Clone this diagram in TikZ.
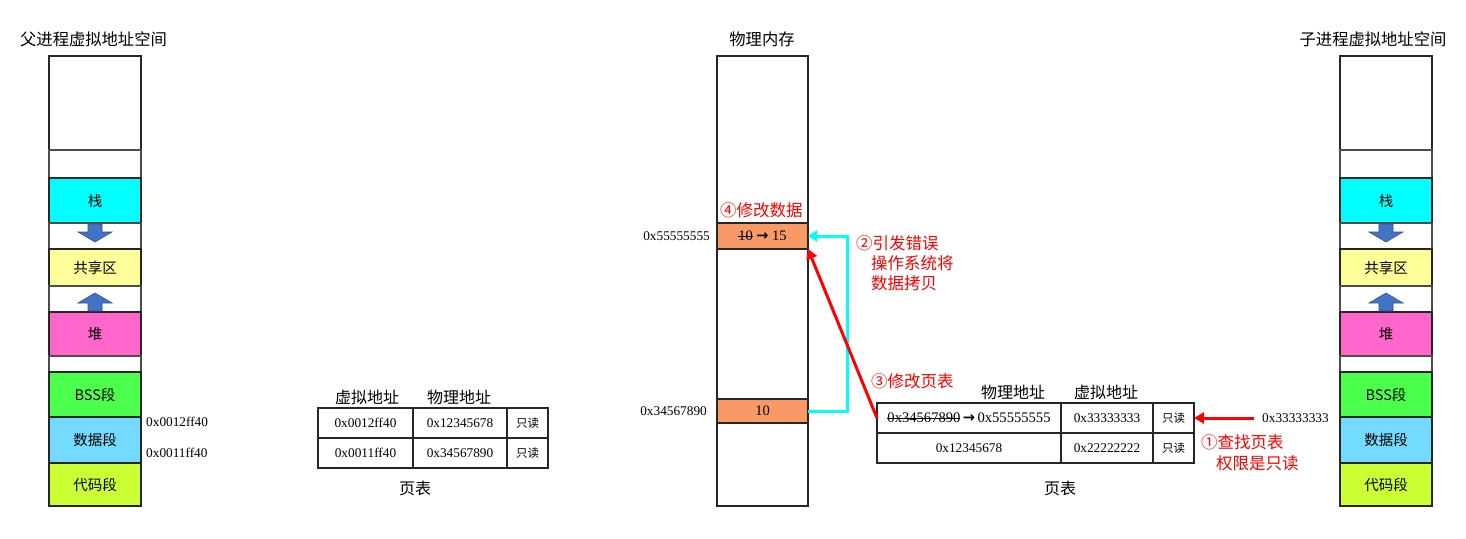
\documentclass[tikz,border=0pt]{standalone}
\usepackage{fontspec}
\setmainfont{Liberation Serif}
\newfontfamily\cjkf{Noto Sans CJK SC}
\newfontfamily\arrowf{DejaVu Sans}
\usetikzlibrary{arrows.meta}
\newcommand\zh[1]{{\cjkf #1}}
\newcommand\barr{{\arrowf\bfseries →}}
\newsavebox\strikebox
\newcommand\strikeout[1]{\sbox\strikebox{#1}\rlap{\rule[0.28em]{\wd\strikebox}{0.7pt}}\usebox\strikebox}
\definecolor{cstack}{HTML}{00FFFF}
\definecolor{cshare}{HTML}{FFFF99}
\definecolor{cheap}{HTML}{FF66CC}
\definecolor{cbss}{HTML}{4DFF4D}
\definecolor{cdata}{HTML}{75DAFF}
\definecolor{ccode}{HTML}{CCFF33}
\definecolor{corange}{HTML}{F99A66}
\definecolor{barrow}{HTML}{4472C4}
\definecolor{barrowd}{HTML}{2F528F}
\tikzset{
  seg/.style={draw=black!85, line width=2pt, anchor=north west, minimum width=92pt, inner sep=0pt, outer sep=0pt, font=\cjkf\fontsize{14.5}{16}\selectfont},
  gapbox/.style={seg, draw=black!70, line width=1.5pt},
  cell/.style={draw=black!85, line width=1.8pt, anchor=north west, minimum height=30pt, inner sep=0pt, outer sep=0pt, font=\fontsize{13.3}{15}\selectfont},
  lbl/.style={inner sep=0pt, font=\fontsize{13.3}{15}\selectfont},
  zlbl/.style={inner sep=0pt, font=\cjkf\fontsize{16}{18}\selectfont},
  rlbl/.style={inner sep=0pt, anchor=west, text=red, font=\cjkf\fontsize{16.5}{18}\selectfont},
  blockarrow/.style={fill=barrow, draw=barrowd, line width=0.6pt},
  cyanline/.style={draw=cstack, line width=3pt, -{Triangle[length=9pt,width=11pt]}},
  redline/.style={draw=red, line width=3pt, -{Triangle[length=10pt,width=11pt]}},
}
\newcommand\vcolumn[2]{%
  \node[seg, minimum height=94pt] (#2top) at (#1,56) {};
  \node[gapbox, minimum height=28pt] (#2g1) at (#1,150) {};
  \node[seg, fill=cstack, minimum height=45pt] (#2stack) at (#1,178) {栈};
  \node[gapbox, minimum height=26pt] (#2g2) at (#1,223) {};
  \node[seg, fill=cshare, minimum height=37pt] (#2share) at (#1,249) {共享区};
  \node[gapbox, minimum height=26pt] (#2g3) at (#1,286) {};
  \node[seg, fill=cheap, minimum height=44pt] (#2heap) at (#1,312) {堆};
  \node[gapbox, minimum height=16pt] (#2g4) at (#1,356) {};
  \node[seg, fill=cbss, minimum height=45pt] (#2bss) at (#1,372) {BSS段};
  \node[seg, fill=cdata, minimum height=46pt] (#2data) at (#1,417) {数据段};
  \node[seg, fill=ccode, minimum height=43pt] (#2code) at (#1,463) {代码段};
  \fill[blockarrow] (#1+39,224) -- (#1+53,224) -- (#1+53,232) -- (#1+63,232) -- (#1+46,242) -- (#1+29,232) -- (#1+39,232) -- cycle;
  \fill[blockarrow] (#1+39,311) -- (#1+53,311) -- (#1+53,303) -- (#1+63,303) -- (#1+46,293) -- (#1+29,303) -- (#1+39,303) -- cycle;
}
\begin{document}
\begin{tikzpicture}[x=1pt,y=-1pt]
\useasboundingbox[fill=white] (0,0) rectangle (1466,538);

% titles
\node[zlbl, font=\cjkf\fontsize{16.3}{18}\selectfont] (tparent) at (93.5,39) {父进程虚拟地址空间};
\node[zlbl, font=\cjkf\fontsize{16.3}{18}\selectfont] (tmem) at (762,39) {物理内存};
\node[zlbl, font=\cjkf\fontsize{16.3}{18}\selectfont] (tchild) at (1373,39) {子进程虚拟地址空间};

% columns
\vcolumn{49}{p}
\vcolumn{1340}{c}

\node[lbl, anchor=west] (pa1) at (146,422) {0x0012ff40};
\node[lbl, anchor=west] (pa2) at (146,453) {0x0011ff40};

% physical memory
\node[seg, minimum width=91pt, minimum height=450pt] (mem) at (717,56) {};
\node[seg, fill=corange, minimum width=91pt, minimum height=26pt, font=\fontsize{14.5}{16}\selectfont] (m15) at (717,223) {\strikeout{10} \barr{} 15};
\node[seg, fill=corange, minimum width=91pt, minimum height=24pt, font=\fontsize{14.5}{16}\selectfont] (m10) at (717,399) {10};
\node[lbl, anchor=east] (ma1) at (710,236) {0x55555555};
\node[lbl, anchor=east] (ma2) at (707,411) {0x34567890};

% left page table
\node[zlbl] (lh1) at (367,397) {虚拟地址};
\node[zlbl] (lh2) at (459,397) {物理地址};
\node[cell, minimum width=95pt] (l1a) at (318,408) {0x0012ff40};
\node[cell, minimum width=94pt] (l1b) at (l1a.north east) {0x12345678};
\node[cell, minimum width=41pt, font=\cjkf\fontsize{11.5}{13}\selectfont] (l1c) at (l1b.north east) {只读};
\node[cell, minimum width=95pt] (l2a) at (l1a.south west) {0x0011ff40};
\node[cell, minimum width=94pt] (l2b) at (l2a.north east) {0x34567890};
\node[cell, minimum width=41pt, font=\cjkf\fontsize{11.5}{13}\selectfont] (l2c) at (l2b.north east) {只读};
\node[zlbl] (lcap) at (415,488) {页表};

% right page table
\node[zlbl] (rh1) at (1013,392) {物理地址};
\node[zlbl] (rh2) at (1106,392) {虚拟地址};
\node[cell, minimum width=184pt, font=\fontsize{14.6}{16}\selectfont] (r1a) at (877,403) {\strikeout{0x34567890}\,\barr\,0x55555555};
\node[cell, minimum width=92pt] (r1b) at (r1a.north east) {0x33333333};
\node[cell, minimum width=41pt, font=\cjkf\fontsize{11.5}{13}\selectfont] (r1c) at (r1b.north east) {只读};
\node[cell, minimum width=184pt] (r2a) at (r1a.south west) {0x12345678};
\node[cell, minimum width=92pt] (r2b) at (r2a.north east) {0x22222222};
\node[cell, minimum width=41pt, font=\cjkf\fontsize{11.5}{13}\selectfont] (r2c) at (r2b.north east) {只读};
\node[zlbl] (rcap) at (1060,488) {页表};

\node[lbl, anchor=west] (vaddr) at (1262,418) {0x33333333};

% red labels
\node[rlbl] (s4) at (720,210) {④修改数据};
\node[rlbl] (s2a) at (856,243) {②引发错误};
\node[rlbl] (s2b) at (871,263) {操作系统将};
\node[rlbl] (s2c) at (871,283) {数据拷贝};
\node[rlbl] (s3) at (871,381) {③修改页表};
\node[rlbl] (s1a) at (1201,442) {①查找页表};
\node[rlbl] (s1b) at (1216,463) {权限是只读};

% connectors
\draw[cyanline] (m10.east) -- ++(39,0) |- (m15.east);
\draw[redline] (r1a.west) -- (m15.south east);
\draw[redline] ([xshift=-8pt]vaddr.west) -- (vaddr.west -| r1c.east);
\end{tikzpicture}
\end{document}
